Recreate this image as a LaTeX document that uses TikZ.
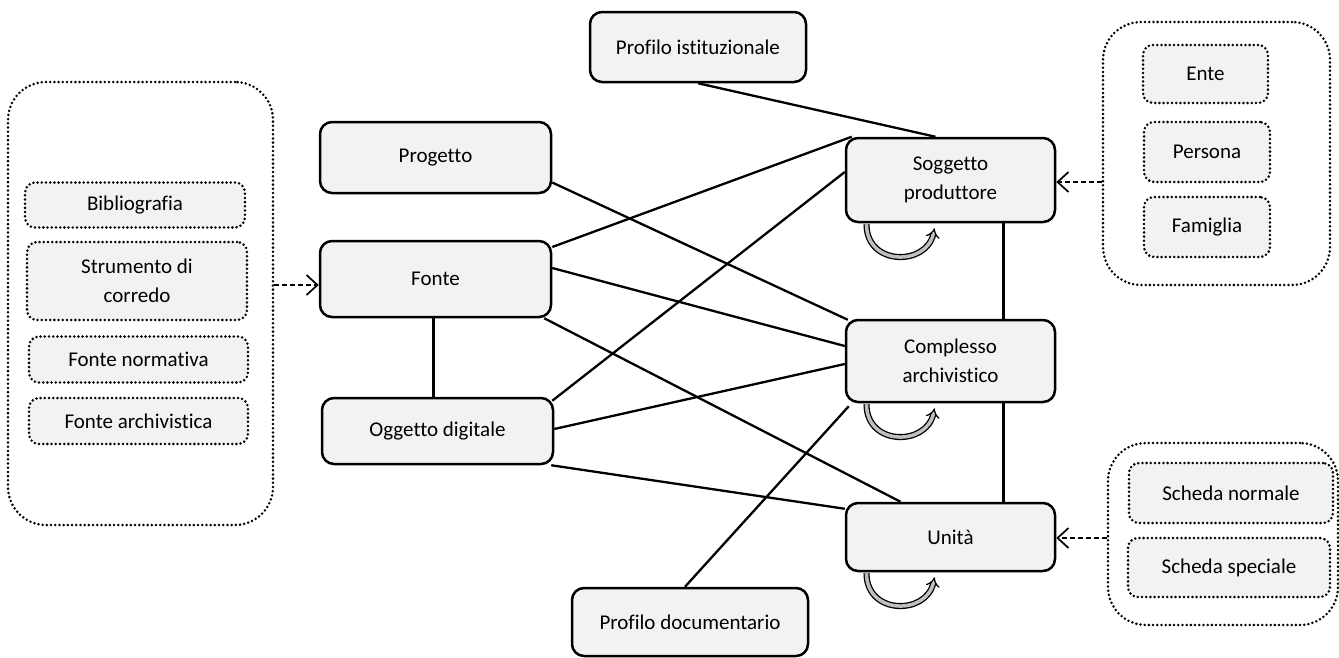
\documentclass[tikz,border=0pt]{standalone}
\usepackage{fontspec}
\setmainfont{Carlito}[Ligatures=NoCommon]
\usetikzlibrary{arrows.meta,calc}
\definecolor{boxfill}{HTML}{F2F2F2}
\definecolor{loopgray}{HTML}{BFBFBF}
\pgfdeclarelayer{bg}
\pgfsetlayers{bg,main}
\begin{document}
\begin{tikzpicture}[x=1pt,y=-1pt, font=\fontsize{21}{29}\selectfont,
  box/.style={draw, line width=2.5pt, rounded corners=12pt, fill=boxfill, align=center, inner sep=0pt},
  dbox/.style={draw, line width=2.8pt, dash pattern=on 0pt off 4.2pt, line cap=round, rounded corners=10pt, fill=boxfill, align=center, inner sep=0pt},
  grp/.style={draw, line width=2.8pt, dash pattern=on 0pt off 4.2pt, line cap=round, rounded corners=38pt, inner sep=0pt},
  conn/.style={line width=2.3pt},
  dasharrow/.style={line width=1.7pt, dash pattern=on 5pt off 3pt, -{Straight Barb[length=11pt,width=20pt]}},
  selfloop/.style={double=loopgray, double distance=3.5pt, line width=1.3pt, -{Implies[length=6pt,width=11pt]}}
]
\useasboundingbox (0,0) rectangle (1339,657);

% left group
\node[grp, minimum width=265, minimum height=443] (lgrp) at (140.5,303.5) {};
\node[dbox, minimum width=220, minimum height=45] (bib) at (135,205) {Bibliografia};
\node[dbox, minimum width=220, minimum height=78] (str) at (137,281) {Strumento di\\corredo};
\node[dbox, minimum width=219, minimum height=46] (fnorm) at (138.5,359.5) {Fonte normativa};
\node[dbox, minimum width=219, minimum height=46] (farch) at (138.5,421) {Fonte archivistica};

% right top group
\node[grp, minimum width=227, minimum height=263] (rgrpa) at (1216.5,153.5) {};
\node[dbox, minimum width=125, minimum height=58] (ente) at (1205.5,74) {Ente};
\node[dbox, minimum width=126, minimum height=60] (persona) at (1207,152) {Persona};
\node[dbox, minimum width=126, minimum height=60] (famiglia) at (1207,227) {Famiglia};

% right bottom group
\node[grp, minimum width=230, minimum height=182] (rgrpb) at (1223,534) {};
\node[dbox, minimum width=204, minimum height=60] (schn) at (1231,493) {Scheda normale};
\node[dbox, minimum width=202, minimum height=59] (schs) at (1229,567.5) {Scheda speciale};

% main nodes
\node[box, minimum width=216, minimum height=70] (pi) at (698,47) {Profilo istituzionale};
\node[box, minimum width=231, minimum height=71] (prog) at (435.5,157.5) {Progetto};
\node[box, minimum width=231, minimum height=76] (fonte) at (435.5,279) {Fonte};
\node[box, minimum width=231, minimum height=66] (ogg) at (437.5,431) {Oggetto digitale};
\node[box, minimum width=209, minimum height=84] (sogg) at (950.5,180) {Soggetto\\produttore};
\node[box, minimum width=209, minimum height=82] (comp) at (950.5,361) {Complesso\\archivistico};
\node[box, minimum width=209, minimum height=68] (unita) at (950.5,537) {Unità};
\node[box, minimum width=236, minimum height=68] (pd) at (690,622) {Profilo documentario};

\begin{pgfonlayer}{bg}
\draw[conn] (pi.south) -- ($(sogg.north)+(-15,0)$);
\draw[conn] ($(prog.east)+(0,25)$) -- ($(comp.north west)+(3,1)$);
\draw[conn] ($(fonte.east)+(0,-32)$) -- ($(sogg.north west)+(7,0)$);
\draw[conn] ($(fonte.east)+(0,-11)$) -- ($(comp.west)+(0,-15)$);
\draw[conn] ($(fonte.south east)+(-8,0)$) -- ($(unita.north)+(-50,0)$);
\draw[conn] ($(fonte.south)+(-2,0)$) -- ($(ogg.north)+(-4,0)$);
\draw[conn] ($(ogg.north east)+(-2,4)$) -- ($(sogg.west)+(0,-8)$);
\draw[conn] ($(ogg.east)+(0,-2)$) -- ($(comp.west)+(0,3)$);
\draw[conn] ($(ogg.south east)+(-3,0)$) -- ($(unita.north west)+(0,7)$);
\draw[conn] ($(pd.north)+(-5,0)$) -- ($(comp.south west)+(4,3)$);
\draw[conn] ($(sogg.south)+(53,0)$) -- ($(comp.north)+(53,0)$);
\draw[conn] ($(comp.south)+(53,0)$) -- ($(unita.north)+(53,0)$);
\end{pgfonlayer}

% dashed arrows
\coordinate (fa) at ($(fonte.west)+(0,6)$);
\draw[dasharrow] (lgrp.east |- fa) -- (fa);
\coordinate (sa) at ($(sogg.east)+(0,2)$);
\draw[dasharrow] (rgrpa.west |- sa) -- (sa);
\coordinate (ua) at ($(unita.east)+(0,1)$);
\draw[dasharrow] (rgrpb.west |- ua) -- (ua);

% self loops
\foreach \n in {sogg,comp,unita}{
  \draw[selfloop] ($(\n.south)+(-84,1)$) .. controls +(0,42) and +(-8,38) .. ($(\n.south)+(-16,5)$);
}
\end{tikzpicture}
\end{document}
